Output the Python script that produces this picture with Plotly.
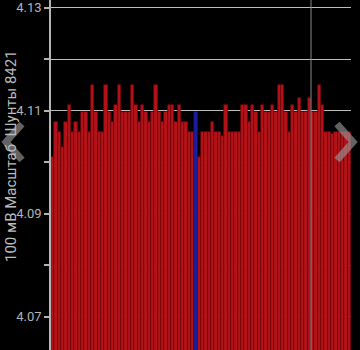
import plotly.graph_objects as go

# ---- data ----
voltages = [
    4.1010, 4.1078, 4.1058, 4.1030, 4.1078, 4.1110, 4.1058, 4.1078, 4.1058, 4.1098,
    4.1098, 4.1058, 4.1150, 4.1098, 4.1058, 4.1058, 4.1150, 4.1098, 4.1078, 4.1110,
    4.1150, 4.1098, 4.1098, 4.1098, 4.1150, 4.1110, 4.1078, 4.1110, 4.1098, 4.1078,
    4.1098, 4.1150, 4.1098, 4.1078, 4.1098, 4.1110, 4.1110, 4.1078, 4.1110, 4.1078,
    4.1078, 4.1058, 4.1058, 4.1098, 4.1010, 4.1058, 4.1058, 4.1058, 4.1078, 4.1058,
    4.1058, 4.1050, 4.1110, 4.1058, 4.1058, 4.1058, 4.1058, 4.1110, 4.1110, 4.1078,
    4.1110, 4.1098, 4.1058, 4.1110, 4.1098, 4.1098, 4.1110, 4.1098, 4.1150, 4.1150,
    4.1098, 4.1058, 4.1110, 4.1098, 4.1125, 4.1098, 4.1098, 4.1125, 4.1098, 4.1098,
    4.1150, 4.1110, 4.1058, 4.1058, 4.1055, 4.1058, 4.1058, 4.1058, 4.1058, 4.1058,
]
cell_index = list(range(len(voltages)))
highlight_index = 43
cursor_position = 77.5
y_tick_values = [4.07, 4.08, 4.09, 4.10, 4.11, 4.12, 4.13]
y_tick_labels = ["4.07", "", "4.09", "", "4.11", "", "4.13"]
y_title = "100 мВ Масштаб\u00a0\u00a0Шунты 8421"

RED = "#b3121a"
BLUE = "#1c1c9e"
colors = [BLUE if i == highlight_index else RED for i in cell_index]
line_colors = ["#10105a" if i == highlight_index else "#6e0508" for i in cell_index]

fig = go.Figure()
fig.add_trace(go.Bar(
    x=cell_index,
    y=voltages,
    marker=dict(color=colors, line=dict(color=line_colors, width=0.7)),
    hoverinfo="skip",
))

W, H = 360, 350
L, R, T, B = 51, 9, 0, 0
pw, ph = W - L - R, H - T - B


def px(x):
    return (x - L) / pw


def py(y):
    return 1 - (y - T) / ph


grey = "#b4b4b4"
shapes = [
    # cursor line
    dict(type="line", xref="x", yref="paper", x0=cursor_position, x1=cursor_position,
         y0=0, y1=1, line=dict(color="#8a8a8a", width=1)),
    # left chevron
    dict(type="path", xref="paper", yref="paper",
         path=f"M {px(22)} {py(124)} L {px(6)} {py(142)} L {px(22)} {py(160)}",
         line=dict(color="rgba(150,150,150,0.65)", width=7)),
    # right chevron
    dict(type="path", xref="paper", yref="paper",
         path=f"M {px(337)} {py(124)} L {px(353)} {py(142)} L {px(337)} {py(160)}",
         line=dict(color="rgba(150,150,150,0.65)", width=7)),
]

fig.update_layout(
    width=W, height=H,
    margin=dict(l=L, r=R, t=T, b=B),
    paper_bgcolor="black",
    plot_bgcolor="black",
    showlegend=False,
    bargap=0,
    font=dict(family="Roboto", color=grey, size=13),
    xaxis=dict(range=[-0.5, len(voltages) - 0.5], visible=False, fixedrange=True),
    yaxis=dict(
        range=[4.06350, 4.13146],
        tickvals=y_tick_values,
        ticktext=y_tick_labels,
        ticks="outside", ticklen=5, tickcolor=grey, tickwidth=1.5,
        showgrid=True, gridcolor="#bdbdbd", gridwidth=1.3,
        showline=True, linecolor=grey, linewidth=1.5,
        zeroline=False,
        tickfont=dict(family="Roboto", size=13, color=grey),
        layer="above traces",
    ),
    shapes=shapes,
    annotations=[dict(
        text=y_title, textangle=-90, xref="paper", yref="paper",
        x=px(11), y=py(156), xanchor="center", yanchor="middle",
        showarrow=False, font=dict(family="Roboto", size=15, color="#bcbcbc"),
    )],
)

fig.write_html("out.html", config={"displayModeBar": False})
